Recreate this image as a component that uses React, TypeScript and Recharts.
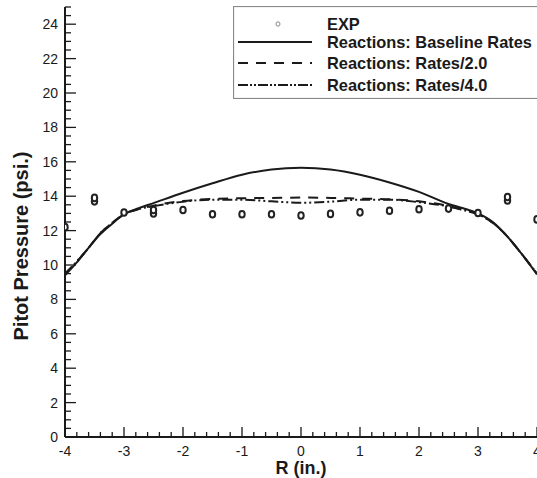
import { ComposedChart, Line, Scatter, XAxis, YAxis, Legend } from "recharts";

// radial position (in.) and pitot pressure (psi.)
const curveR = [-4, -3.8, -3.6, -3.4, -3.2, -3.0, -2.75, -2.5, -2.0, -1.5, -1.0, -0.5, 0, 0.5, 1.0, 1.5, 2.0, 2.5, 2.75, 3.0, 3.25, 3.5, 3.75, 4.0];
const baselineP = [9.4, 10.15, 11.0, 11.8, 12.4, 12.95, 13.3, 13.6, 14.2, 14.75, 15.25, 15.55, 15.65, 15.55, 15.25, 14.8, 14.25, 13.55, 13.3, 13.0, 12.5, 11.65, 10.6, 9.45];
const rates2P = [9.5, 10.2, 11.0, 11.85, 12.45, 12.95, 13.25, 13.45, 13.72, 13.84, 13.88, 13.9, 13.92, 13.9, 13.86, 13.82, 13.7, 13.43, 13.2, 12.95, 12.45, 11.65, 10.6, 9.5];
const rates4P = [9.5, 10.2, 11.0, 11.85, 12.45, 12.95, 13.25, 13.42, 13.68, 13.8, 13.8, 13.7, 13.62, 13.68, 13.8, 13.8, 13.65, 13.4, 13.2, 12.95, 12.45, 11.65, 10.6, 9.5];

const expR = [-4, -3.5, -3.5, -3, -2.5, -2.5, -2, -1.5, -1, -0.5, 0, 0.5, 1, 1.5, 2, 2.5, 3, 3.5, 3.5, 4];
const expP = [12.2, 13.7, 13.9, 13.05, 13.0, 13.2, 13.2, 12.95, 12.95, 12.95, 12.88, 12.97, 13.06, 13.15, 13.24, 13.28, 13.02, 13.75, 13.95, 12.65];

const xMajorTicks = [-4, -3, -2, -1, 0, 1, 2, 3, 4];
const yMajorTicks = [0, 2, 4, 6, 8, 10, 12, 14, 16, 18, 20, 22, 24];

const FONT = "'Liberation Sans', Arial, Helvetica, sans-serif";
const INK = "#1a1a1a";

const toPoints = (r: number[], p: number[]) => r.map((v, i) => ({ r: v, p: p[i] }));
const baselineData = toPoints(curveR, baselineP);
const rates2Data = toPoints(curveR, rates2P);
const rates4Data = toPoints(curveR, rates4P);
const expData = toPoints(expR, expP);

// minor ticks between the labelled ones
function withMinor(major: number[], step: number, max: number) {
  const out: number[] = [];
  const lo = major[0];
  for (let v = lo; v <= max + 1e-9; v += step) out.push(Math.round(v * 100) / 100);
  return out;
}
const xTicks = withMinor(xMajorTicks, 0.2, 4);
const yTicks = withMinor(yMajorTicks, 0.5, 25);

const isMajor = (v: number, list: number[]) => list.some((m) => Math.abs(m - v) < 1e-6);

const YTick = (props: any) => {
  const { x, y, payload } = props;
  const major = isMajor(payload.value, yMajorTicks);
  return (
    <g>
      <line x1={x} x2={x + (major ? 11 : 6)} y1={y} y2={y} stroke={INK} strokeWidth={1.3} />
      {major && (
        <text x={x - 7} y={y} dy={5} textAnchor="end" fontFamily={FONT} fontSize={14} fill={INK}>
          {payload.value}
        </text>
      )}
    </g>
  );
};

const XTick = (props: any) => {
  const { x, y, payload } = props;
  const major = isMajor(payload.value, xMajorTicks);
  return (
    <g>
      <line x1={x} x2={x} y1={y} y2={y - (major ? 10 : 5)} stroke={INK} strokeWidth={1.3} />
      {major && (
        <text x={x} y={y} dy={19} textAnchor="middle" fontFamily={FONT} fontSize={14} fill={INK}>
          {payload.value}
        </text>
      )}
    </g>
  );
};

const ExpDot = (props: any) => {
  const { cx, cy } = props;
  return <ellipse cx={cx} cy={cy} rx={2.7} ry={3.3} fill="#fff" stroke="#222" strokeWidth={2} />;
};

const legendRows = [
  { label: "EXP", kind: "dot", y: 18 },
  { label: "Reactions: Baseline Rates", kind: "solid", y: 36 },
  { label: "Reactions: Rates/2.0", kind: "dash", y: 57 },
  { label: "Reactions: Rates/4.0", kind: "dashdot", y: 79 },
];

function LegendBox() {
  return (
    <svg width={320} height={93} style={{ display: "block" }}>
      <rect x={0.5} y={0.5} width={330} height={92} fill="#fff" stroke="#888" strokeWidth={1.2} />
      {legendRows.map((row) => (
        <g key={row.label}>
          {row.kind === "dot" && <ellipse cx={45} cy={row.y} rx={2} ry={2.2} fill="#fff" stroke="#888" strokeWidth={1} />}
          {row.kind === "solid" && <line x1={5} x2={79} y1={row.y} y2={row.y} stroke={INK} strokeWidth={2} />}
          {row.kind === "dash" && <line x1={5} x2={79} y1={row.y} y2={row.y} stroke={INK} strokeWidth={2} strokeDasharray="10 8" />}
          {row.kind === "dashdot" && (
            <line x1={5} x2={79} y1={row.y} y2={row.y} stroke={INK} strokeWidth={2} strokeDasharray="10 2 2 2 2 2" />
          )}
          <text x={94} y={row.y} dy={6} fontFamily={FONT} fontWeight="bold" fontSize={16.4} fill={INK}>
            {row.label}
          </text>
        </g>
      ))}
    </svg>
  );
}

export default function App() {
  return (
    <div style={{ position: "absolute", left: 0, top: 0, width: 537, height: 478, overflow: "hidden", background: "#fff" }}>
      <ComposedChart width={560} height={478} margin={{ top: 7, right: 23, left: 0, bottom: 0 }}>
        <XAxis
          dataKey="r"
          type="number"
          domain={[-4, 4]}
          ticks={xTicks}
          interval={0}
          allowDataOverflow
          height={41}
          tickSize={0}
          tickMargin={0}
          tickLine={false}
          axisLine={{ stroke: INK, strokeWidth: 2 }}
          tick={<XTick />}
          label={{
            content: () => (
              <text x={301} y={474} textAnchor="middle" fontFamily={FONT} fontWeight="bold" fontSize={18} fill={INK}>
                R (in.)
              </text>
            ),
          }}
        />
        <YAxis
          dataKey="p"
          type="number"
          domain={[0, 25]}
          ticks={yTicks}
          interval={0}
          allowDataOverflow
          width={65}
          tickSize={0}
          tickMargin={0}
          tickLine={false}
          axisLine={{ stroke: INK, strokeWidth: 2 }}
          tick={<YTick />}
          label={{
            content: () => (
              <text
                x={0}
                y={0}
                transform="translate(28 246) rotate(-90)"
                textAnchor="middle"
                fontFamily={FONT}
                fontWeight="bold"
                fontSize={20}
                fill={INK}
              >
                Pitot Pressure (psi.)
              </text>
            ),
          }}
        />
        <Legend
          layout="vertical"
          align="center"
          verticalAlign="middle"
          wrapperStyle={{ left: 233, top: 6, width: 320, height: 93 }}
          content={() => <LegendBox />}
        />
        <Line data={baselineData} dataKey="p" type="monotone" stroke={INK} strokeWidth={2} dot={false} isAnimationActive={false} />
        <Line data={rates2Data} dataKey="p" type="monotone" stroke={INK} strokeWidth={2} strokeDasharray="10 8" dot={false} isAnimationActive={false} />
        <Line data={rates4Data} dataKey="p" type="monotone" stroke={INK} strokeWidth={2} strokeDasharray="10 3 2 3 2 3" dot={false} isAnimationActive={false} />
        <Scatter data={expData} dataKey="p" shape={<ExpDot />} isAnimationActive={false} />
      </ComposedChart>
    </div>
  );
}
